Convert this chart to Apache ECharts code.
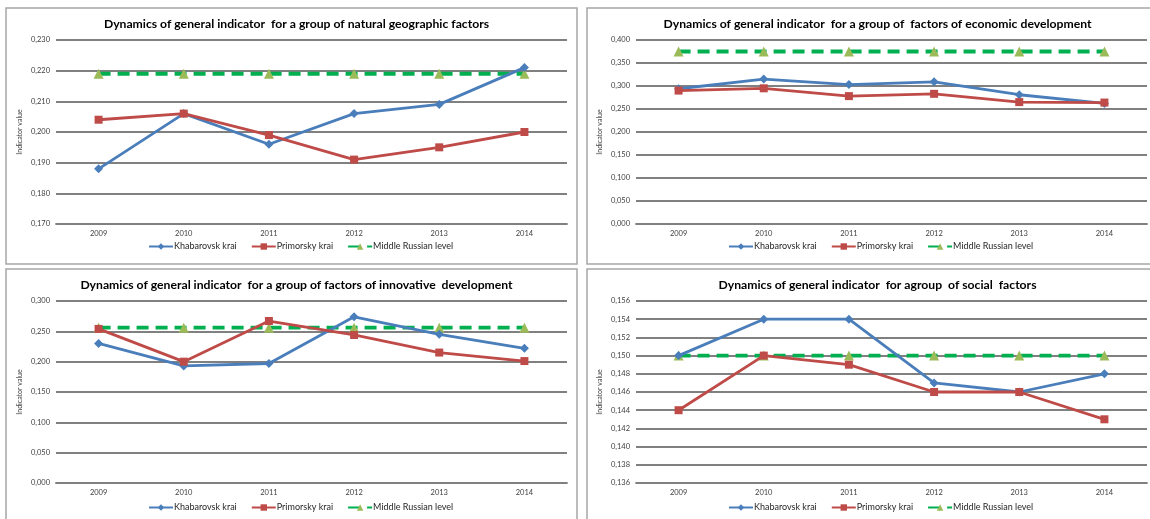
<!DOCTYPE html>
<html>
<head>
<meta charset="utf-8">
<script src="https://cdn.jsdelivr.net/npm/echarts@6/dist/echarts.min.js"></script>
<style>
  html, body { margin: 0; padding: 0; background: #fff; }
  #chart { width: 1150px; height: 519px; }
</style>
</head>
<body>
<div id="chart"></div>
<script>
// Years on the horizontal axis
const years = ['2009', '2010', '2011', '2012', '2013', '2014'];

// Series names
const seriesNames = ['Khabarovsk krai', 'Primorsky krai', 'Middle Russian level'];

// Panel titles
const panelTitles = [
  'Dynamics of general indicator  for a group of natural geographic factors',
  'Dynamics of general indicator  for a group of  factors of economic development',
  'Dynamics of general indicator  for a group of factors of innovative  development',
  'Dynamics of general indicator  for agroup  of social  factors'
];

// Natural geographic factors
const naturalKhabarovsk = [0.188, 0.206, 0.196, 0.206, 0.209, 0.221];
const naturalPrimorsky  = [0.204, 0.206, 0.199, 0.191, 0.195, 0.200];
const naturalRussia     = [0.219, 0.219, 0.219, 0.219, 0.219, 0.219];

// Economic development factors
const economicKhabarovsk = [0.294, 0.315, 0.303, 0.309, 0.281, 0.262];
const economicPrimorsky  = [0.290, 0.295, 0.278, 0.283, 0.265, 0.264];
const economicRussia     = [0.375, 0.375, 0.375, 0.375, 0.375, 0.375];

// Innovative development factors
const innovativeKhabarovsk = [0.230, 0.193, 0.197, 0.274, 0.245, 0.222];
const innovativePrimorsky  = [0.254, 0.200, 0.267, 0.244, 0.215, 0.201];
const innovativeRussia     = [0.256, 0.256, 0.256, 0.256, 0.256, 0.256];

// Social factors
const socialKhabarovsk = [0.150, 0.154, 0.154, 0.147, 0.146, 0.148];
const socialPrimorsky  = [0.144, 0.150, 0.149, 0.146, 0.146, 0.143];
const socialRussia     = [0.150, 0.150, 0.150, 0.150, 0.150, 0.150];

// Value-axis ticks per panel: [min, max, interval]
const naturalTicks    = [0.170, 0.230, 0.010];
const economicTicks   = [0.000, 0.400, 0.050];
const innovativeTicks = [0.000, 0.300, 0.050];
const socialTicks     = [0.136, 0.156, 0.002];

const panelData = [
  [naturalKhabarovsk, naturalPrimorsky, naturalRussia],
  [economicKhabarovsk, economicPrimorsky, economicRussia],
  [innovativeKhabarovsk, innovativePrimorsky, innovativeRussia],
  [socialKhabarovsk, socialPrimorsky, socialRussia]
];
const panelTicks = [naturalTicks, economicTicks, innovativeTicks, socialTicks];

// Layout of the four panels
const frames = [
  { x: 6,   y: 8,   w: 571, h: 256 },
  { x: 587, y: 8,   w: 571, h: 256 },
  { x: 6,   y: 269, w: 571, h: 256 },
  { x: 587, y: 269, w: 571, h: 256 }
];
const plots = [
  { left: 56,  top: 40,  width: 511, height: 184 },
  { left: 636, top: 40,  width: 511, height: 184 },
  { left: 56,  top: 301, width: 511, height: 182 },
  { left: 636, top: 301, width: 511, height: 182 }
];
const legendPos = [
  { left: 148, top: 242 },
  { left: 728, top: 242 },
  { left: 148, top: 503 },
  { left: 728, top: 503 }
];

const FONT = 'Lato, "Open Sans", sans-serif';
const BLUE = '#4A7EBB', RED = '#BE4B48', GREEN = '#00B050', OLIVE = '#9BBB59';
const GRID_COLOR = '#808080';

const fmt = v => v.toFixed(3).replace('.', ',');

const option = {
  backgroundColor: '#fff',
  animation: false,
  textStyle: { fontFamily: FONT },
  title: [], legend: [], grid: [], xAxis: [], yAxis: [], series: [],
  graphic: frames.map(f => ({
    type: 'rect',
    shape: { x: f.x, y: f.y, width: f.w, height: f.h },
    style: { fill: 'none', stroke: '#a6a6a6', lineWidth: 1.5 },
    silent: true, z: -10
  }))
};

panelData.forEach((data, i) => {
  const f = frames[i], p = plots[i], t = panelTicks[i], lg = legendPos[i];
  const cx = f.x + f.w / 2;

  option.title.push({
    text: panelTitles[i],
    left: cx, top: f.y + 5, textAlign: 'center',
    textStyle: { fontFamily: FONT, fontSize: 12.2, fontWeight: 'bold', color: '#000' }
  });

  option.legend.push({
    data: seriesNames,
    left: lg.left, top: lg.top,
    orient: 'horizontal', padding: 0,
    itemWidth: 24, itemHeight: 8, itemGap: 14,
    textStyle: { fontFamily: FONT, fontSize: 9, color: '#262626', padding: [0, 0, 0, -4] }
  });

  option.grid.push({ left: p.left, top: p.top, width: p.width, height: p.height, containLabel: false });

  option.xAxis.push({
    type: 'category', gridIndex: i, data: years, boundaryGap: true,
    axisLine: { show: true, lineStyle: { color: GRID_COLOR, width: 1.8 } },
    axisTick: { show: false },
    axisLabel: { fontFamily: FONT, fontSize: 7.5, color: '#404040', margin: 6 }
  });

  option.yAxis.push({
    type: 'value', gridIndex: i, min: t[0], max: t[1], interval: t[2],
    name: 'Indicator value', nameLocation: 'middle', nameGap: 33, nameRotate: 90,
    nameTextStyle: { fontFamily: FONT, fontSize: 7, color: '#404040' },
    axisLine: { show: false }, axisTick: { show: false },
    splitLine: { show: true, lineStyle: { color: GRID_COLOR, width: 1.8 } },
    axisLabel: { fontFamily: FONT, fontSize: 7.5, color: '#404040', margin: 6, formatter: fmt }
  });

  option.series.push(
    {
      name: seriesNames[0], type: 'line', xAxisIndex: i, yAxisIndex: i, data: data[0],
      symbol: 'diamond', symbolSize: 9,
      lineStyle: { color: BLUE, width: 2.8 }, itemStyle: { color: BLUE }, z: 3
    },
    {
      name: seriesNames[1], type: 'line', xAxisIndex: i, yAxisIndex: i, data: data[1],
      symbol: 'rect', symbolSize: 8,
      lineStyle: { color: RED, width: 2.8 }, itemStyle: { color: RED }, z: 4
    },
    {
      name: seriesNames[2], type: 'line', xAxisIndex: i, yAxisIndex: i, data: data[2],
      symbol: 'triangle', symbolSize: 10,
      lineStyle: { color: GREEN, width: 3.8, type: [12, 7] }, itemStyle: { color: OLIVE }, z: 2
    }
  );
});

const chart = echarts.init(document.getElementById('chart'), null, { renderer: 'canvas' });
chart.setOption(option);
</script>
</body>
</html>
